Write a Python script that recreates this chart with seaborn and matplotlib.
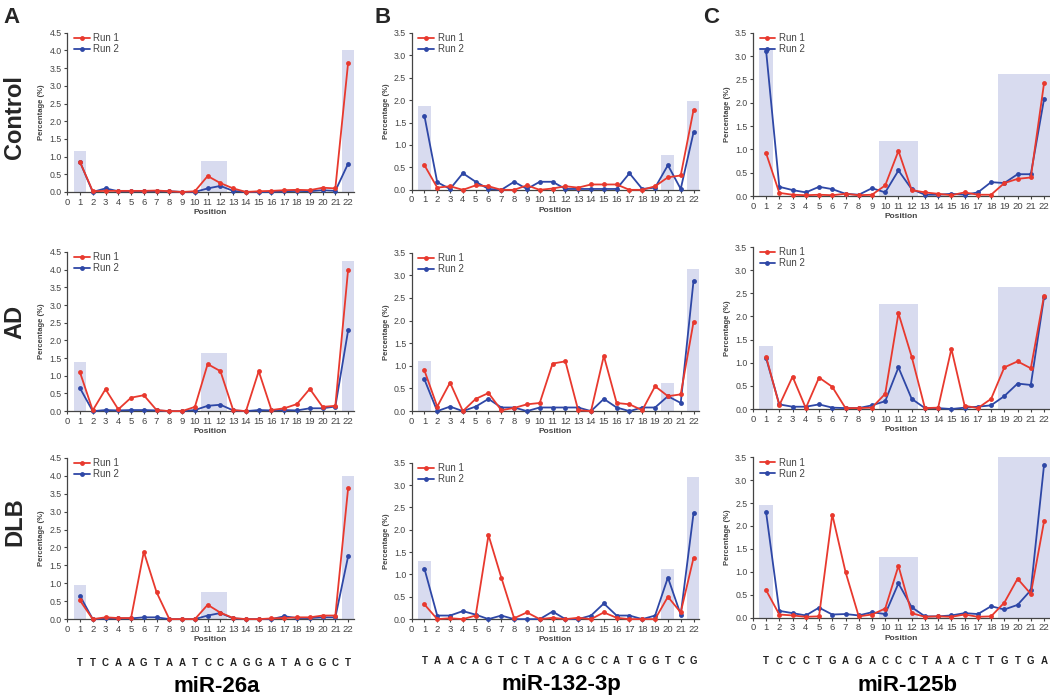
import numpy as np
import pandas as pd
import seaborn as sns
import matplotlib.pyplot as plt

sns.set_style("ticks")
plt.rcParams['font.family'] = ['Liberation Sans', 'DejaVu Sans']

positions = list(range(1, 23))

# miR-26a
ctrl_26a_run1 = [0.85, 0.02, 0.03, 0.03, 0.03, 0.03, 0.04, 0.02, 0.0, 0.02, 0.45, 0.25, 0.10, 0.0, 0.02, 0.03, 0.05, 0.06, 0.05, 0.12, 0.10, 3.65]
ctrl_26a_run2 = [0.85, 0.0, 0.10, 0.02, 0.02, 0.02, 0.02, 0.02, 0.0, 0.0, 0.10, 0.17, 0.03, 0.0, 0.0, 0.0, 0.02, 0.03, 0.02, 0.05, 0.03, 0.80]
ad_26a_run1 = [1.10, 0.02, 0.62, 0.05, 0.38, 0.45, 0.03, 0.0, 0.0, 0.12, 1.33, 1.13, 0.03, 0.0, 1.13, 0.03, 0.08, 0.20, 0.63, 0.12, 0.15, 4.00]
ad_26a_run2 = [0.65, 0.0, 0.03, 0.02, 0.03, 0.03, 0.02, 0.0, 0.0, 0.03, 0.15, 0.18, 0.02, 0.0, 0.03, 0.02, 0.03, 0.02, 0.08, 0.08, 0.13, 2.28]
dlb_26a_run1 = [0.52, 0.0, 0.05, 0.03, 0.03, 1.88, 0.75, 0.0, 0.0, 0.0, 0.40, 0.18, 0.03, 0.0, 0.0, 0.02, 0.03, 0.05, 0.05, 0.10, 0.10, 3.65]
dlb_26a_run2 = [0.65, 0.0, 0.02, 0.02, 0.02, 0.05, 0.05, 0.0, 0.0, 0.0, 0.10, 0.17, 0.02, 0.0, 0.0, 0.0, 0.08, 0.03, 0.03, 0.05, 0.05, 1.75]

# miR-132-3p
ctrl_132_run1 = [0.55, 0.05, 0.08, 0.0, 0.10, 0.08, 0.0, 0.0, 0.10, 0.0, 0.03, 0.08, 0.05, 0.12, 0.12, 0.12, 0.0, 0.0, 0.08, 0.28, 0.32, 1.78]
ctrl_132_run2 = [1.65, 0.17, 0.02, 0.37, 0.18, 0.02, 0.0, 0.18, 0.02, 0.18, 0.18, 0.02, 0.02, 0.02, 0.02, 0.02, 0.37, 0.02, 0.05, 0.55, 0.02, 1.28]
ad_132_run1 = [0.90, 0.10, 0.63, 0.0, 0.27, 0.40, 0.02, 0.07, 0.15, 0.18, 1.05, 1.10, 0.02, 0.0, 1.22, 0.18, 0.15, 0.02, 0.55, 0.33, 0.37, 1.97]
ad_132_run2 = [0.70, 0.0, 0.10, 0.0, 0.10, 0.27, 0.08, 0.08, 0.0, 0.08, 0.08, 0.08, 0.08, 0.0, 0.27, 0.08, 0.0, 0.08, 0.08, 0.33, 0.18, 2.88]
dlb_132_run1 = [0.33, 0.0, 0.02, 0.0, 0.08, 1.88, 0.93, 0.02, 0.15, 0.0, 0.03, 0.0, 0.03, 0.0, 0.15, 0.03, 0.0, 0.0, 0.0, 0.50, 0.15, 1.37]
dlb_132_run2 = [1.13, 0.08, 0.08, 0.18, 0.10, 0.0, 0.08, 0.0, 0.0, 0.0, 0.17, 0.0, 0.0, 0.08, 0.35, 0.08, 0.08, 0.0, 0.08, 0.93, 0.10, 2.37]

# miR-125b
ctrl_125_run1 = [0.92, 0.07, 0.03, 0.02, 0.03, 0.02, 0.05, 0.02, 0.03, 0.23, 0.97, 0.13, 0.08, 0.05, 0.02, 0.08, 0.03, 0.03, 0.28, 0.37, 0.40, 2.42]
ctrl_125_run2 = [3.12, 0.20, 0.13, 0.08, 0.20, 0.15, 0.05, 0.03, 0.17, 0.08, 0.55, 0.15, 0.03, 0.03, 0.05, 0.03, 0.08, 0.30, 0.28, 0.47, 0.47, 2.08]
ad_125_run1 = [1.13, 0.08, 0.70, 0.02, 0.68, 0.48, 0.02, 0.02, 0.03, 0.33, 2.07, 1.13, 0.02, 0.03, 1.30, 0.07, 0.02, 0.22, 0.90, 1.03, 0.88, 2.45]
ad_125_run2 = [1.10, 0.10, 0.05, 0.05, 0.10, 0.03, 0.02, 0.02, 0.08, 0.17, 0.90, 0.22, 0.02, 0.02, 0.0, 0.03, 0.05, 0.08, 0.28, 0.55, 0.52, 2.42]
dlb_125_run1 = [0.60, 0.07, 0.05, 0.02, 0.03, 2.25, 1.00, 0.03, 0.07, 0.20, 1.13, 0.10, 0.02, 0.03, 0.02, 0.07, 0.02, 0.03, 0.33, 0.85, 0.52, 2.10]
dlb_125_run2 = [2.30, 0.15, 0.10, 0.05, 0.22, 0.07, 0.08, 0.05, 0.12, 0.08, 0.75, 0.23, 0.03, 0.03, 0.05, 0.10, 0.08, 0.25, 0.18, 0.28, 0.60, 3.33]

# highlighted regions: (first position, last position, height)
shade_26a = {
    'Control': [(1, 1, 1.15), (11, 12, 0.88), (22, 22, 4.0)],
    'AD': [(1, 1, 1.38), (11, 12, 1.65), (22, 22, 4.25)],
    'DLB': [(1, 1, 0.95), (11, 12, 0.77), (22, 22, 4.0)],
}
shade_132 = {
    'Control': [(1, 1, 1.87), (20, 20, 0.78), (22, 22, 1.97)],
    'AD': [(1, 1, 1.10), (20, 20, 0.63), (22, 22, 3.15)],
    'DLB': [(1, 1, 1.30), (20, 20, 1.12), (22, 22, 3.18)],
}
shade_125 = {
    'Control': [(1, 1, 3.17), (10, 12, 1.18), (19, 22, 2.62)],
    'AD': [(1, 1, 1.37), (10, 12, 2.27), (19, 22, 2.63)],
    'DLB': [(1, 1, 2.45), (10, 12, 1.33), (19, 22, 3.5)],
}

seq_26a = "TTCAAGTAATCCAGGATAGGCT"
seq_132 = "TAACAGTCTACAGCCATGGTCG"
seq_125 = "TCCCTGAGACCCTAACTTGTGA"

groups = ['Control', 'AD', 'DLB']
mirnas = ['miR-26a', 'miR-132-3p', 'miR-125b']
letters = ['A', 'B', 'C']
ymax = [4.5, 3.5, 3.5]

series = {
    'miR-26a': {'Control': (ctrl_26a_run1, ctrl_26a_run2), 'AD': (ad_26a_run1, ad_26a_run2), 'DLB': (dlb_26a_run1, dlb_26a_run2)},
    'miR-132-3p': {'Control': (ctrl_132_run1, ctrl_132_run2), 'AD': (ad_132_run1, ad_132_run2), 'DLB': (dlb_132_run1, dlb_132_run2)},
    'miR-125b': {'Control': (ctrl_125_run1, ctrl_125_run2), 'AD': (ad_125_run1, ad_125_run2), 'DLB': (dlb_125_run1, dlb_125_run2)},
}
shades = {'miR-26a': shade_26a, 'miR-132-3p': shade_132, 'miR-125b': shade_125}
seqs = {'miR-26a': seq_26a, 'miR-132-3p': seq_132, 'miR-125b': seq_125}

RED = '#e8392e'
BLUE = '#2e47a6'
SHADE = '#d8dbef'
GREY = '#444444'

# axes rectangles [left, bottom, width, height] in figure fraction
rects = [
    [[0.064, 0.725, 0.273, 0.228], [0.064, 0.411, 0.273, 0.228], [0.064, 0.113, 0.273, 0.231]],
    [[0.392, 0.728, 0.274, 0.225], [0.392, 0.411, 0.274, 0.227], [0.392, 0.113, 0.274, 0.224]],
    [[0.717, 0.719, 0.283, 0.234], [0.717, 0.414, 0.283, 0.232], [0.717, 0.115, 0.283, 0.230]],
]

fig = plt.figure(figsize=(10.5, 6.98), dpi=100)

for c, mir in enumerate(mirnas):
    for r, grp in enumerate(groups):
        ax = fig.add_axes(rects[c][r])
        for start, end, h in shades[mir][grp]:
            ax.bar(start - 0.5, h, width=end - start + 1, align='edge',
                   color=SHADE, edgecolor='none', zorder=0)
        run1, run2 = series[mir][grp]
        df = pd.DataFrame({'Position': positions * 2,
                           'Percentage': run1 + run2,
                           'Run': ['Run 1'] * 22 + ['Run 2'] * 22})
        sns.lineplot(data=df, x='Position', y='Percentage', hue='Run',
                     palette={'Run 1': RED, 'Run 2': BLUE},
                     hue_order=['Run 2', 'Run 1'],
                     marker='o', markersize=3.5, markeredgewidth=0,
                     linewidth=1.3, ax=ax, clip_on=False, zorder=3)
        ax.set_xlim(0, 22.45)
        ax.set_ylim(0, ymax[c])
        ax.set_xticks(range(0, 23))
        ax.set_yticks(np.arange(0, ymax[c] + 0.01, 0.5))
        ax.set_yticklabels([f'{v:.1f}' for v in np.arange(0, ymax[c] + 0.01, 0.5)])
        ax.tick_params(axis='both', labelsize=6.3, colors=GREY, length=2.5,
                       width=0.8, pad=1.5)
        ax.tick_params(axis='x', labelsize=6.8)
        for s in ['left', 'bottom']:
            ax.spines[s].set_color(GREY)
            ax.spines[s].set_linewidth(0.9)
        sns.despine(ax=ax)
        ax.set_xlabel('Position', fontsize=6, fontweight='bold', color=GREY, labelpad=2)
        ax.set_ylabel('Percentage (%)', fontsize=5.5, fontweight='bold', color=GREY, labelpad=3)
        handles, labels = ax.get_legend_handles_labels()
        order = [labels.index('Run 1'), labels.index('Run 2')]
        ax.legend([handles[i] for i in order], [labels[i] for i in order],
                  loc='upper left', bbox_to_anchor=(0.0, 1.04), frameon=False,
                  fontsize=7, handlelength=1.6, handletextpad=0.4,
                  labelspacing=0.1, borderaxespad=0.3, labelcolor=GREY)
        if r == 2:
            xt = ax.get_xaxis_transform()
            for i, ch in enumerate(seqs[mir]):
                ax.text(positions[i], -0.27, ch, transform=xt, ha='center',
                        va='center', fontsize=7, fontweight='bold', color='#222222')
            ax.text(0.52, -0.42, mir, transform=ax.transAxes, ha='center',
                    va='center', fontsize=16, fontweight='bold', color='black')

for c, letter in enumerate(letters):
    fig.text([0.003, 0.357, 0.670][c], 0.975, letter, fontsize=16,
             fontweight='bold', va='center', ha='left')

for r, grp in enumerate(groups):
    fig.text(0.014, [0.832, 0.539, 0.253][r], grp, rotation=90, fontsize=17,
             fontweight='bold', va='center', ha='center')

fig.savefig('out.png', dpi=100)
